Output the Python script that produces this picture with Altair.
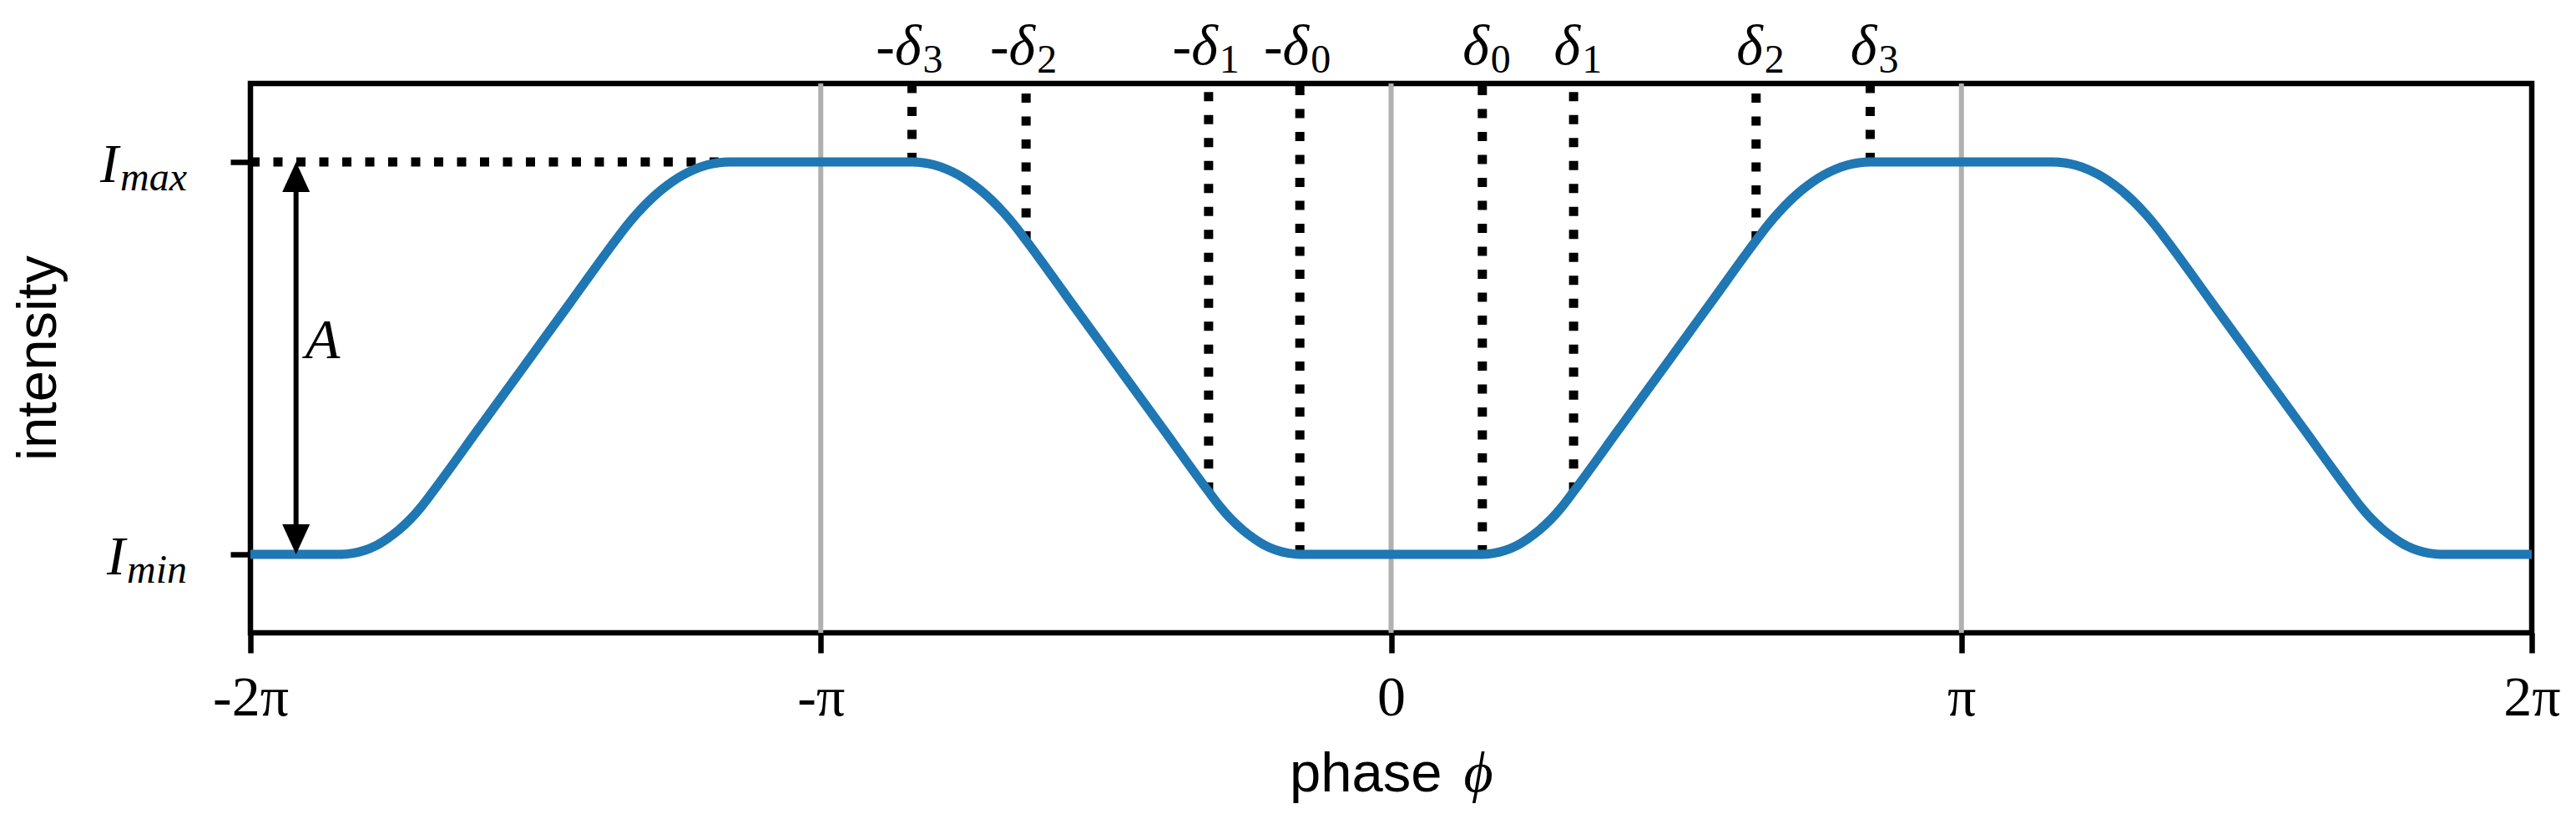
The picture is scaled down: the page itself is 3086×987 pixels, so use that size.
import altair as alt
import pandas as pd

# ---- curve (phase in units of pi, intensity: Imin=0, Imax=1)
phase = [
    -2.00,
    -1.84, -1.82, -1.80, -1.78, -1.76, -1.74, -1.72, -1.70, -1.68, -1.60, -1.52, -1.44,
    -1.36, -1.34, -1.32, -1.30, -1.28, -1.26, -1.24, -1.22, -1.20, -1.18, -1.16,
    -0.84, -0.82, -0.80, -0.78, -0.76, -0.74, -0.72, -0.70, -0.68, -0.66, -0.64,
    -0.56, -0.48, -0.40,
    -0.32, -0.30, -0.28, -0.26, -0.24, -0.22, -0.20, -0.18, -0.16,
    0.16, 0.18, 0.20, 0.22, 0.24, 0.26, 0.28, 0.30, 0.32, 0.40, 0.48, 0.56,
    0.64, 0.66, 0.68, 0.70, 0.72, 0.74, 0.76, 0.78, 0.80, 0.82, 0.84,
    1.16, 1.18, 1.20, 1.22, 1.24, 1.26, 1.28, 1.30, 1.32, 1.34, 1.36,
    1.44, 1.52, 1.60,
    1.68, 1.70, 1.72, 1.74, 1.76, 1.78, 1.80, 1.82, 1.84,
    2.00,
]
intensity = [
    0.000,
    0.000, 0.003, 0.010, 0.022, 0.040, 0.062, 0.089, 0.122, 0.160, 0.320, 0.480, 0.640,
    0.800, 0.838, 0.872, 0.902, 0.928, 0.950, 0.968, 0.982, 0.992, 0.998, 1.000,
    1.000, 0.998, 0.992, 0.982, 0.968, 0.950, 0.928, 0.902, 0.872, 0.838, 0.800,
    0.640, 0.480, 0.320,
    0.160, 0.122, 0.089, 0.062, 0.040, 0.022, 0.010, 0.003, 0.000,
    0.000, 0.003, 0.010, 0.022, 0.040, 0.062, 0.089, 0.122, 0.160, 0.320, 0.480, 0.640,
    0.800, 0.838, 0.872, 0.902, 0.928, 0.950, 0.968, 0.982, 0.992, 0.998, 1.000,
    1.000, 0.998, 0.992, 0.982, 0.968, 0.950, 0.928, 0.902, 0.872, 0.838, 0.800,
    0.640, 0.480, 0.320,
    0.160, 0.122, 0.089, 0.062, 0.040, 0.022, 0.010, 0.003, 0.000,
    0.000,
]

# delta markers (phase / pi) and the curve level where each dotted line stops
delta_pos = [0.16, 0.32, 0.64, 0.84]
delta_level = [0.00, 0.16, 0.80, 1.00]
delta_idx = ["0", "1", "2", "3"]

tick_vals = [-2, -1, 0, 1, 2]
tick_text = ["-2π", "-π", "0", "π", "2π"]
grid_vals = [-1, 0, 1]
y_ticks = [0, 1]
y_domain = [-0.2, 1.2]
imax_line = [-2.0, -1.16]   # dotted Imax guide (from .. to)
arrow_x = -1.92             # amplitude arrow position (phase / pi)

BLUE = "#1f77b4"
SERIF = "Liberation Serif, DejaVu Serif"
SANS = "Liberation Sans, Arial, Helvetica"

curve_df = pd.DataFrame({"x": phase, "y": intensity})
pos_df = pd.DataFrame({"x": delta_pos, "y": delta_level, "idx": delta_idx,
                       "top": [y_domain[1]] * 4})
neg_df = pd.DataFrame({"x": [-v for v in delta_pos], "y": delta_level, "idx": delta_idx,
                       "top": [y_domain[1]] * 4})
rules_df = pd.concat([neg_df, pos_df], ignore_index=True)
grid_df = pd.DataFrame({"x": grid_vals, "y": [y_domain[0]] * 3, "top": [y_domain[1]] * 3})

xs = alt.Scale(domain=[-2, 2], nice=False, zero=False)
ys = alt.Scale(domain=y_domain, nice=False, zero=False)

label_expr = " : ".join(
    f"datum.value == {v} ? '{t}'" for v, t in zip(tick_vals[:-1], tick_text[:-1])
) + f" : '{tick_text[-1]}'"

x_axis = alt.Axis(
    values=tick_vals, labelExpr=label_expr, title="", domain=False, grid=False,
    ticks=True, tickSize=24, tickWidth=6.5, tickColor="black",
    labelFont=SERIF, labelFontSize=68, labelColor="black",
    labelBaseline="alphabetic", labelPadding=74, labelFlush=False, labelOverlap=False,
)
y_axis = alt.Axis(
    values=y_ticks, labels=False, title="", domain=False, grid=False,
    ticks=True, tickSize=24, tickWidth=6.5, tickColor="black",
)


def X(field="x"):
    return alt.X(f"{field}:Q", scale=xs, axis=x_axis, title="")


def Y(field="y"):
    return alt.Y(f"{field}:Q", scale=ys, axis=y_axis, title="")


# grey vertical grid lines at -pi, 0, pi
grid = alt.Chart(grid_df).mark_rule(color="#b0b0b0", strokeWidth=6).encode(
    x=X(), y=Y(), y2="top:Q"
)

# dotted vertical lines at +-delta
vlines = alt.Chart(rules_df).mark_rule(
    color="black", strokeWidth=11, strokeDash=[11, 16.5], strokeCap="butt"
).encode(x=X(), y=Y(), y2="top:Q")

# dotted horizontal Imax guide
hline = alt.Chart(pd.DataFrame({"x": [imax_line[0]], "x2": [imax_line[1]], "y": [1.0]})).mark_rule(
    color="black", strokeWidth=11, strokeDash=[11, 16.5], strokeCap="butt"
).encode(x=X(), x2="x2:Q", y=Y())

curve = alt.Chart(curve_df).mark_line(
    color=BLUE, strokeWidth=11, interpolate="monotone", clip=True, strokeJoin="round"
).encode(x=X(), y=Y())

# amplitude arrow
arrow_line = alt.Chart(pd.DataFrame({"x": [arrow_x], "y": [0.06], "y2": [0.94]})).mark_rule(
    color="black", strokeWidth=6
).encode(x=X(), y=Y(), y2="y2:Q")
head_up = alt.Chart(pd.DataFrame({"x": [arrow_x], "y": [1.0]})).mark_point(
    shape="M0,0L0.825,1.8L-0.825,1.8Z", size=1600, filled=True, color="black",
    opacity=1, strokeWidth=0
).encode(x=X(), y=Y())
head_down = alt.Chart(pd.DataFrame({"x": [arrow_x], "y": [0.0]})).mark_point(
    shape="M0,0L0.825,-1.8L-0.825,-1.8Z", size=1600, filled=True, color="black",
    opacity=1, strokeWidth=0
).encode(x=X(), y=Y())

a_label = alt.Chart(pd.DataFrame({"x": [arrow_x], "y": [0.5], "t": ["A"]})).mark_text(
    font=SERIF, fontStyle="italic", fontSize=68, align="left", baseline="alphabetic",
    dx=11, color="black"
).encode(x=X(), y=Y(), text="t:N")

# delta labels above the frame
pos_main = alt.Chart(pos_df).mark_text(
    font=SERIF, fontStyle="italic", fontSize=68, align="right", baseline="alphabetic",
    dx=8, color="black"
).encode(x=X(), y=alt.value(-23.5), text=alt.value("δ"))
pos_sub = alt.Chart(pos_df).mark_text(
    font=SERIF, fontSize=48, align="left", baseline="alphabetic", dx=10, color="black"
).encode(x=X(), y=alt.value(-13.5), text="idx:N")
neg_main = alt.Chart(neg_df).mark_text(
    font=SERIF, fontStyle="italic", fontSize=68, align="right", baseline="alphabetic",
    dx=11, color="black"
).encode(x=X(), y=alt.value(-23.5), text=alt.value("-δ"))
neg_sub = alt.Chart(neg_df).mark_text(
    font=SERIF, fontSize=48, align="left", baseline="alphabetic", dx=13, color="black"
).encode(x=X(), y=alt.value(-13.5), text="idx:N")


# y tick labels I_max / I_min
def ylabel(level, sub, xr):
    d = pd.DataFrame({"y": [level]})
    main = alt.Chart(d).mark_text(
        font=SERIF, fontStyle="italic", fontSize=66, align="right", baseline="alphabetic",
        dy=24, color="black"
    ).encode(x=alt.value(xr), y=Y(), text=alt.value("I"))
    subt = alt.Chart(d).mark_text(
        font=SERIF, fontStyle="italic", fontSize=48, align="left", baseline="alphabetic",
        dy=34, dx=2, color="black"
    ).encode(x=alt.value(xr), y=Y(), text=alt.value(sub))
    return [main, subt]


imax_lab = ylabel(1.0, "max", -158)
imin_lab = ylabel(0.0, "min", -150)

# axis titles
ytitle = alt.Chart(pd.DataFrame({"t": ["intensity"]})).mark_text(
    font=SANS, fontSize=67, angle=270, align="center", baseline="alphabetic", color="black"
).encode(x=alt.value(-233), y=alt.value(329), text="t:N")
xtitle = alt.Chart(pd.DataFrame({"x": [0.0], "t": ["phase"]})).mark_text(
    font=SANS, fontSize=67, align="right", baseline="alphabetic", dx=61, color="black"
).encode(x=X(), y=alt.value(848), text="t:N")
xtitle_phi = alt.Chart(pd.DataFrame({"x": [0.0], "t": ["ϕ"]})).mark_text(
    font=SERIF, fontStyle="italic", fontSize=68, align="left", baseline="alphabetic",
    dx=87, color="black"
).encode(x=X(), y=alt.value(848), text="t:N")

chart = alt.layer(
    grid, vlines, hline, curve, arrow_line, head_up, head_down, a_label,
    pos_main, pos_sub, neg_main, neg_sub, *imax_lab, *imin_lab, ytitle, xtitle, xtitle_phi,
).properties(
    width=2733, height=658,
    autosize=alt.AutoSizeParams(type="none"),
    padding={"left": 292, "top": 92, "right": 40, "bottom": 225},
).configure_view(
    stroke="black", strokeWidth=6.5
)

chart.save("out.html", embed_options={"renderer": "svg", "actions": False})
